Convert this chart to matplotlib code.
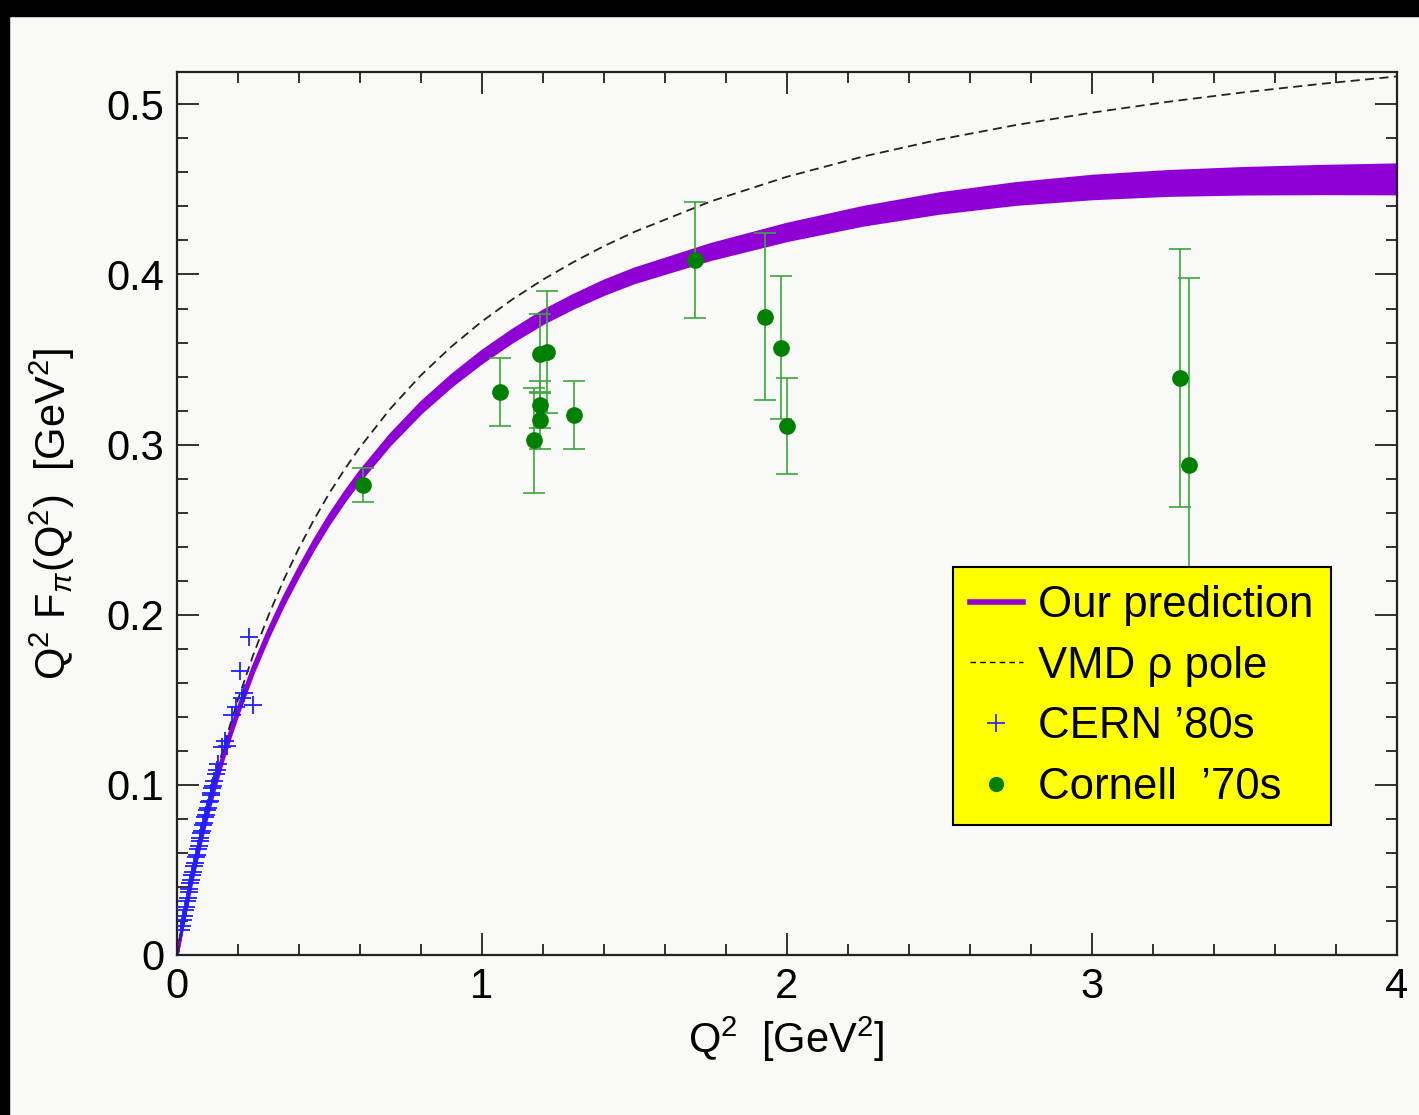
import numpy as np
import matplotlib
matplotlib.use("Agg")
import matplotlib.pyplot as plt
from matplotlib.lines import Line2D
from matplotlib.patches import Rectangle
from matplotlib.ticker import MultipleLocator, FuncFormatter

plt.rcParams['font.family'] = ['Liberation Sans', 'DejaVu Sans']
plt.rcParams['mathtext.fontset'] = 'custom'
plt.rcParams['mathtext.rm'] = 'Liberation Sans'
plt.rcParams['mathtext.it'] = 'Liberation Sans:italic'

curve_q2 = [0.0, 0.025, 0.05, 0.075, 0.1, 0.125, 0.15, 0.175, 0.2, 0.25, 0.3, 0.35,
            0.4, 0.45, 0.5, 0.55, 0.6, 0.7, 0.8, 0.9, 1.0, 1.1, 1.2, 1.3, 1.4, 1.5,
            1.75, 2.0, 2.25, 2.5, 2.75, 3.0, 3.25, 3.5, 3.75, 4.0]

# "Our prediction": central value and half width of the band
band_mid = [0.0, 0.0239, 0.0457, 0.0657, 0.0840, 0.1007, 0.1161, 0.1304, 0.1436, 0.1681,
            0.1892, 0.2084, 0.2256, 0.2417, 0.2564, 0.2696, 0.2818, 0.3033, 0.3219, 0.3378,
            0.3518, 0.3641, 0.3751, 0.3843, 0.3925, 0.3995, 0.4135, 0.4250, 0.4345, 0.4420,
            0.4476, 0.4514, 0.4538, 0.4551, 0.4558, 0.4562]
band_hw = [0.0, 0.0008, 0.001, 0.0012, 0.0014, 0.0015, 0.0016, 0.0017, 0.0018, 0.0019,
           0.002, 0.0021, 0.0022, 0.0023, 0.0024, 0.0025, 0.0026, 0.0028, 0.003, 0.0031,
           0.0033, 0.0034, 0.0036, 0.0037, 0.0039, 0.004, 0.0044, 0.0048, 0.0052, 0.0057,
           0.0061, 0.0066, 0.007, 0.0075, 0.008, 0.0085]

# VMD rho pole
vmd_val = [0.0, 0.0240, 0.0461, 0.0666, 0.0856, 0.1032, 0.1197, 0.1351, 0.1496, 0.1759,
           0.1992, 0.2201, 0.2389, 0.2558, 0.2713, 0.2853, 0.2982, 0.3210, 0.3406, 0.3575,
           0.3723, 0.3853, 0.3969, 0.4072, 0.4166, 0.4250, 0.4429, 0.4574, 0.4693, 0.4793,
           0.4878, 0.4951, 0.5015, 0.5071, 0.5120, 0.5164]

# CERN '80s
cern_q2 = [0.015, 0.018, 0.021, 0.024, 0.027, 0.030, 0.033, 0.036, 0.039, 0.042,
           0.045, 0.048, 0.051, 0.054, 0.057, 0.060, 0.063, 0.066, 0.069, 0.072,
           0.075, 0.078, 0.081, 0.084, 0.087, 0.090, 0.093, 0.096, 0.099, 0.102,
           0.105, 0.108, 0.111, 0.114, 0.117, 0.120, 0.124, 0.128, 0.132, 0.137,
           0.149, 0.159, 0.164, 0.182, 0.195, 0.214, 0.209, 0.220, 0.236, 0.249]
cern_val = [0.0148, 0.0172, 0.0205, 0.0228, 0.0262, 0.0283, 0.0316, 0.0335, 0.0370, 0.0388,
            0.0422, 0.0440, 0.0473, 0.0490, 0.0524, 0.0541, 0.0574, 0.0590, 0.0622, 0.0638,
            0.0670, 0.0685, 0.0717, 0.0731, 0.0762, 0.0778, 0.0810, 0.0822, 0.0853, 0.0866,
            0.0897, 0.0908, 0.0940, 0.0951, 0.0980, 0.0992, 0.1025, 0.1062, 0.1090, 0.1124,
            0.122, 0.126, 0.123, 0.141, 0.146, 0.151, 0.167, 0.154, 0.187, 0.147]

# Cornell '70s
cornell_q2 = [0.612, 1.060, 1.172, 1.192, 1.192, 1.192, 1.214, 1.302, 1.698,
              1.930, 1.980, 2.001, 3.289, 3.320]
cornell_val = [0.276, 0.331, 0.3025, 0.3535, 0.3235, 0.3143, 0.3545, 0.3176, 0.4084,
               0.3751, 0.357, 0.311, 0.3392, 0.2878]
cornell_err = [0.010, 0.020, 0.031, 0.023, 0.014, 0.0167, 0.036, 0.020, 0.034,
               0.049, 0.042, 0.028, 0.076, 0.110]

purple = '#8f00d5'
bg = '#f9f9f7'

fig = plt.figure(figsize=(14.19, 11.15), dpi=100, facecolor=bg)
ax = fig.add_axes([0.1245, 0.1435, 0.8598, 0.7919])
ax.set_facecolor(bg)

# black frame strips at top and left edge
fig.patches.append(Rectangle((0, 1 - 16 / 1115), 1, 16 / 1115, transform=fig.transFigure,
                             color='black', zorder=10))
fig.patches.append(Rectangle((0, 0), 9 / 1419, 1, transform=fig.transFigure,
                             color='black', zorder=10))

lo = np.array(band_mid) - np.array(band_hw)
hi = np.array(band_mid) + np.array(band_hw)
ax.fill_between(curve_q2, lo, hi, facecolor=purple, edgecolor=purple, linewidth=2.2, zorder=2)

ax.plot(curve_q2, vmd_val, color='#222222', lw=1.3, ls=(0, (5, 3)), zorder=3)

ax.plot(cern_q2, cern_val, ls='none', marker='+', ms=13, mew=1.3, color='#1f1fff', zorder=4)

ax.errorbar(cornell_q2, cornell_val, yerr=cornell_err, fmt='none', ecolor='#3ca53c',
            elinewidth=1.2, capsize=8, capthick=1.2, zorder=4)
ax.plot(cornell_q2, cornell_val, ls='none', marker='o', ms=11, color='#008000', zorder=5)

ax.set_xlim(0, 4)
ax.set_ylim(0, 0.519)

ax.xaxis.set_major_locator(MultipleLocator(1))
ax.xaxis.set_minor_locator(MultipleLocator(0.2))
ax.yaxis.set_major_locator(MultipleLocator(0.1))
ax.yaxis.set_minor_locator(MultipleLocator(0.02))
fmt = FuncFormatter(lambda v, p: f'{v:g}')
ax.xaxis.set_major_formatter(fmt)
ax.yaxis.set_major_formatter(fmt)

ax.tick_params(which='both', direction='in', top=True, right=True, width=1.3, color='#222222')
ax.tick_params(which='major', length=16)
ax.tick_params(which='minor', length=8)
ax.tick_params(axis='x', which='major', labelsize=30, pad=9)
ax.tick_params(axis='y', which='major', labelsize=30, pad=9)
for s in ax.spines.values():
    s.set_linewidth(1.6)
    s.set_color('#222222')

ax.set_xlabel(r'Q$^{2}$  [GeV$^{2}$]', fontsize=30)
ax.xaxis.set_label_coords(0.5, -0.068)
ax.set_ylabel(r'Q$^{2}$ F$_{\pi}$(Q$^{2}$)  [GeV$^{2}$]', fontsize=30)
ax.yaxis.set_label_coords(-0.082, 0.5)

handles = [
    Line2D([], [], color=purple, lw=4),
    Line2D([], [], color='black', lw=1, ls=(0, (4, 3))),
    Line2D([], [], ls='none', marker='+', ms=13, mew=1.2, color='#1f1fff'),
    Line2D([], [], ls='none', marker='o', ms=10, color='#008000'),
]
labels = ['Our prediction', 'VMD \u03c1 pole', 'CERN \u201980s', 'Cornell  \u201970s']
leg = ax.legend(handles, labels, loc='upper left', bbox_to_anchor=(0.636, 0.439),
                fontsize=31.5, frameon=True, fancybox=False, framealpha=1,
                facecolor='#ffff00', edgecolor='black', handlelength=1.2,
                handletextpad=0.35, labelspacing=0.45, borderpad=0.4, borderaxespad=0)
leg.get_frame().set_linewidth(1.5)
leg.set_zorder(10)

fig.savefig('out.png', dpi=100, facecolor=bg)
